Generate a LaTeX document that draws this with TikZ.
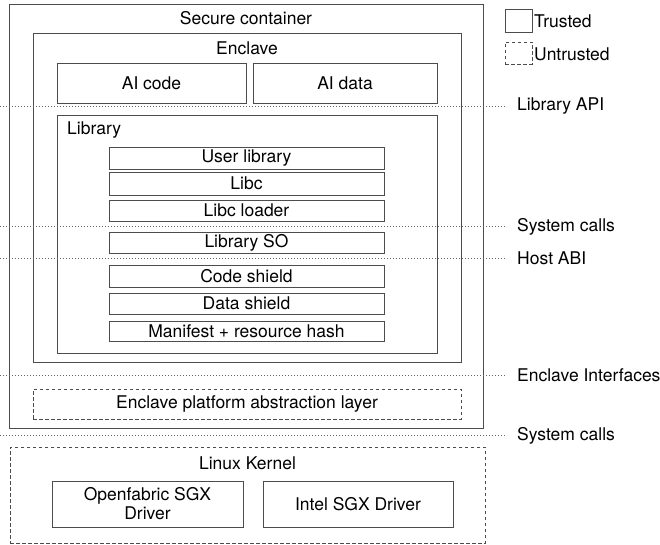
\documentclass[tikz,border=0pt]{standalone}
\usepackage{fontspec}
\setmainfont{TeX Gyre Heros}
\begin{document}
\begin{tikzpicture}[x=1pt,y=-1pt,
  lc/.style={draw=black!70, line width=0.9pt},
  tbox/.style={lc, rectangle, inner sep=0pt, align=center, font=\fontsize{17.5}{20}\selectfont},
  ubox/.style={tbox, dashed, dash pattern=on 3.5pt off 2.5pt},
  lab/.style={inner sep=0pt, font=\fontsize{17.5}{20}\selectfont},
  sep/.style={draw=black!60, line width=0.8pt, dash pattern=on 1pt off 2pt}]
\useasboundingbox (0,0) rectangle (660,545);
% outer boxes
\node[tbox, minimum width=474pt, minimum height=424pt] (container) at (246,216) {};
\node[lab] (containerlab) at (246,18) {Secure container};
\node[tbox, minimum width=428pt, minimum height=329pt] (enclave) at (247,197.5) {};
\node[lab] (enclavelab) at (247,48) {Enclave};
\node[tbox, minimum width=189pt, minimum height=40pt] (aicode) at (151.5,83) {AI code};
\node[tbox, minimum width=184pt, minimum height=40pt] (aidata) at (345,83) {AI data};
\node[tbox, minimum width=380pt, minimum height=238pt] (library) at (247,234) {};
\node[lab, anchor=west] (librarylab) at (67,130) {Library};
% library stack
\node[tbox, minimum width=275pt, minimum height=22pt] (userlib) at (246.5,158) {User library};
\node[tbox, minimum width=275pt, minimum height=23pt] (libc) at (246.5,183.5) {Libc};
\node[tbox, minimum width=275pt, minimum height=21pt] (loader) at (246.5,210.5) {Libc loader};
\node[tbox, minimum width=275pt, minimum height=21pt] (libso) at (246.5,242.5) {Library SO};
\node[tbox, minimum width=275pt, minimum height=22pt] (codeshield) at (246.5,276) {Code shield};
\node[tbox, minimum width=275pt, minimum height=21pt] (datashield) at (246.5,303.5) {Data shield};
\node[tbox, minimum width=275pt, minimum height=20pt] (manifest) at (246.5,331) {Manifest + resource hash};
% platform layer
\node[ubox, minimum width=428pt, minimum height=30pt] (epal) at (247,404) {Enclave platform abstraction layer};
% linux kernel
\node[ubox, minimum width=475pt, minimum height=96pt] (linux) at (247.5,495) {};
\node[lab] (linuxlab) at (247.5,463) {Linux Kernel};
\node[tbox, minimum width=191pt, minimum height=46pt] (openfabric) at (147.5,504) {Openfabric SGX\\[-1pt]Driver};
\node[tbox, minimum width=190pt, minimum height=46pt] (intel) at (358,504) {Intel SGX Driver};
% legend
\node[tbox, minimum width=27pt, minimum height=23pt] (ltrusted) at (518.5,20.5) {};
\node[lab, anchor=west] (ltrustedlab) at (534,21) {Trusted};
\node[ubox, minimum width=27pt, minimum height=22pt] (luntrusted) at (518.5,53) {};
\node[lab, anchor=west] (luntrustedlab) at (534,54) {Untrusted};
% separators
\coordinate (a1) at (0,106.5); \coordinate (a2) at (505,106.5);
\coordinate (b1) at (0,226.5); \coordinate (b2) at (505,226.5);
\coordinate (c1) at (0,258); \coordinate (c2) at (505,258);
\coordinate (d1) at (0,375); \coordinate (d2) at (505,375);
\coordinate (e1) at (0,435.5); \coordinate (e2) at (505,435.5);
\draw[sep] (a1) -- (a2);
\draw[sep] (b1) -- (b2);
\draw[sep] (c1) -- (c2);
\draw[sep] (d1) -- (d2);
\draw[sep] (e1) -- (e2);
\node[lab, anchor=west] (apilab) at (517,106.5) {Library API};
\node[lab, anchor=west] (sys1lab) at (517,227) {System calls};
\node[lab, anchor=west] (abilab) at (517,258.5) {Host ABI};
\node[lab, anchor=west] (eilab) at (517,375.5) {Enclave Interfaces};
\node[lab, anchor=west] (sys2lab) at (517,436) {System calls};
\end{tikzpicture}
\end{document}
